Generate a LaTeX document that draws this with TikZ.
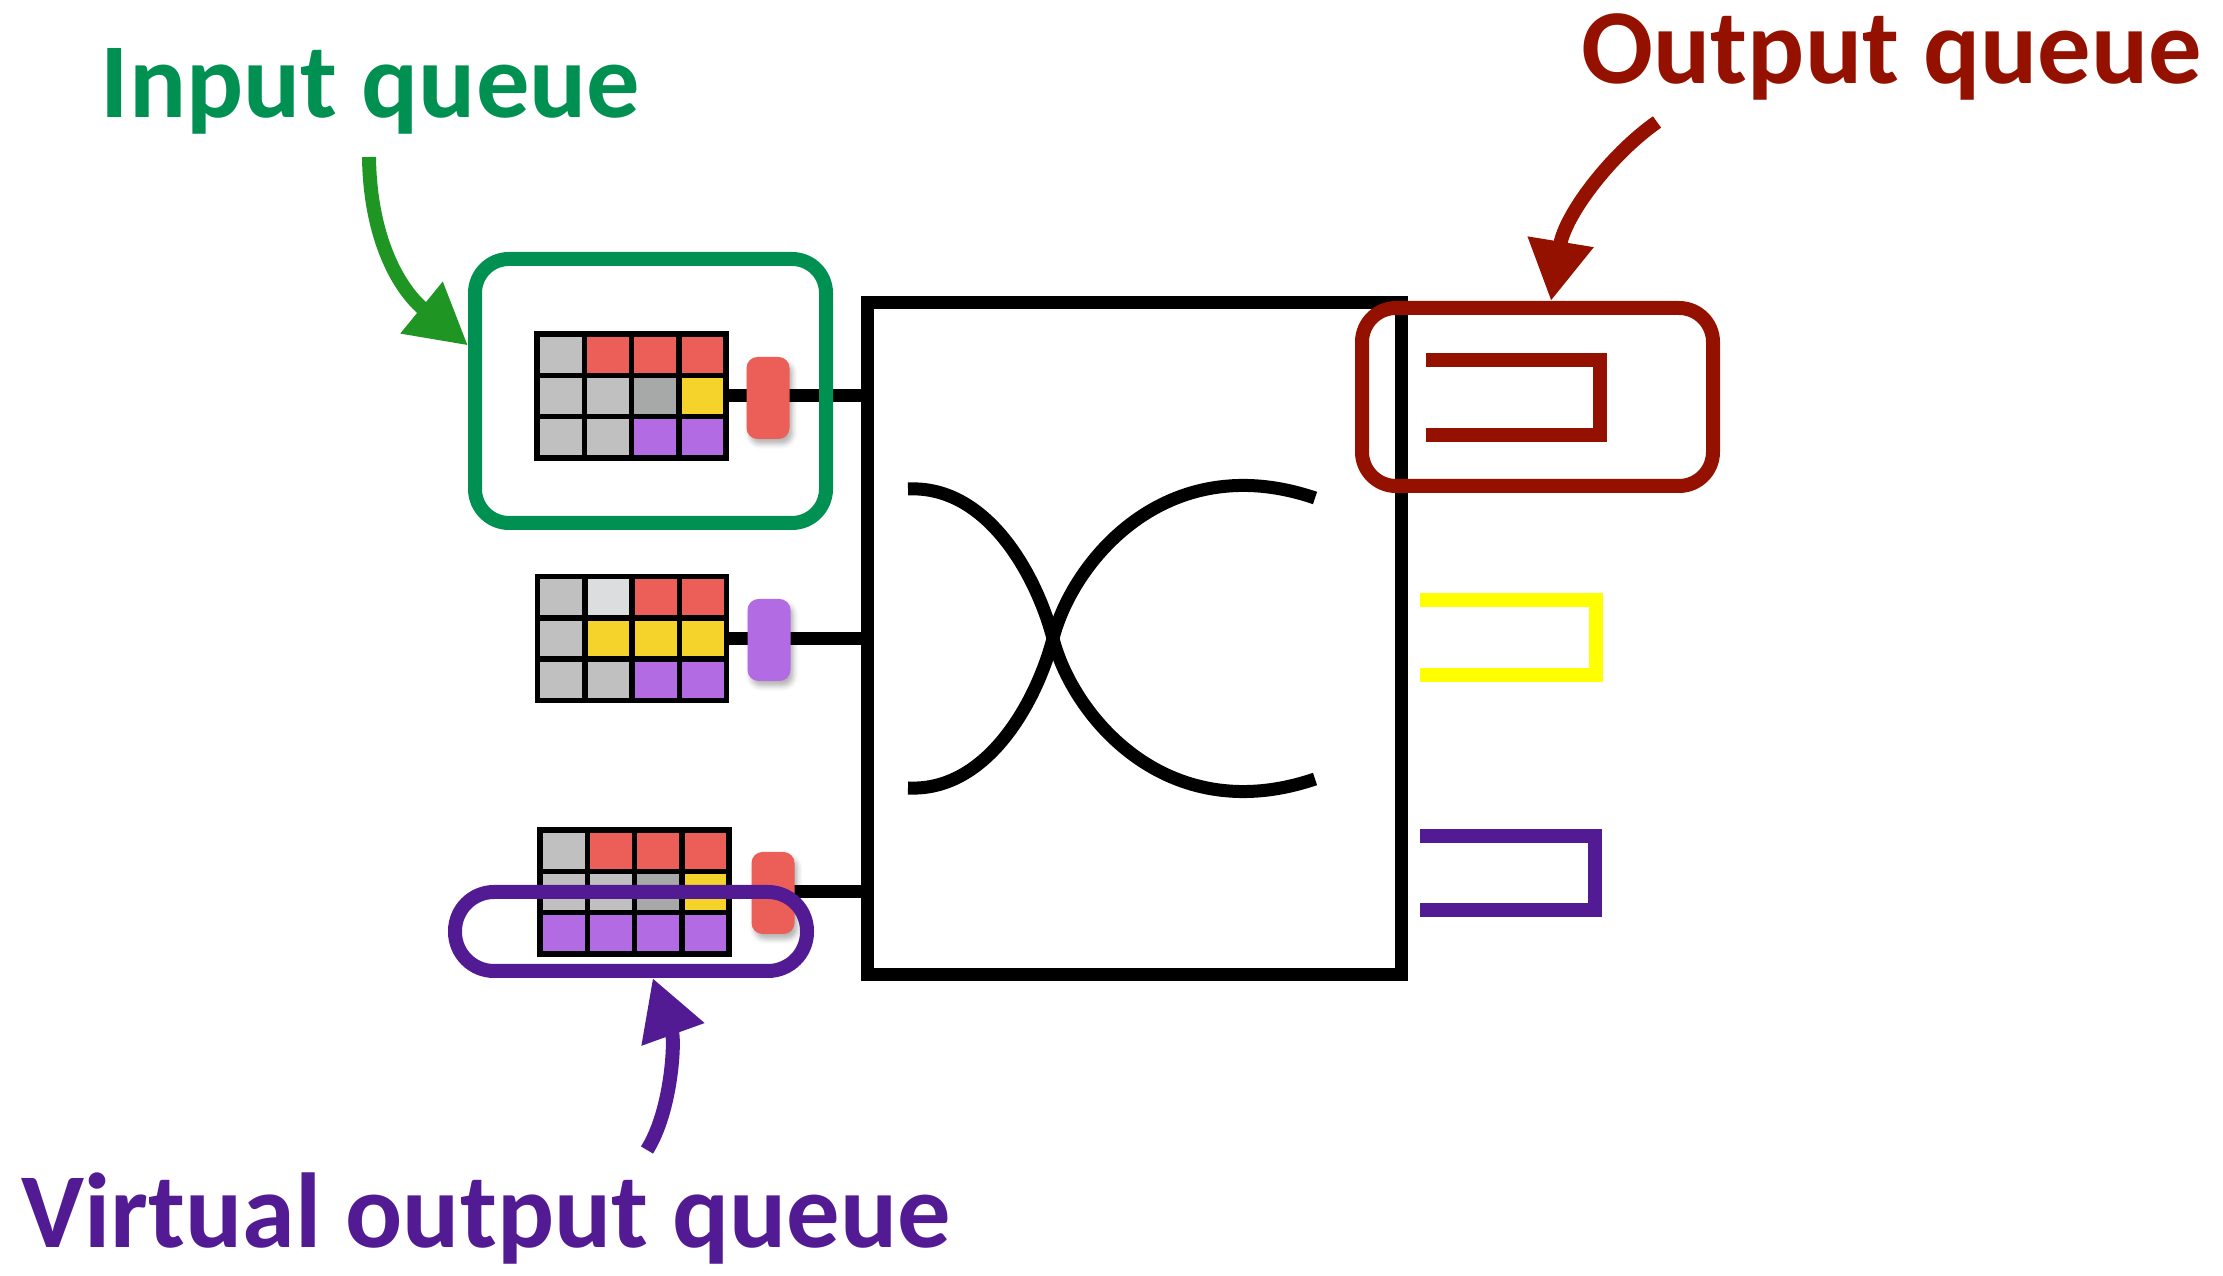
\documentclass[tikz,border=0pt]{standalone}
\usepackage{fontspec}
\setmainfont{Carlito}
\usetikzlibrary{arrows.meta,shadows.blur}
\definecolor{iqgreen}{HTML}{009051}
\definecolor{iqarrow}{HTML}{1F9524}
\definecolor{oqred}{HTML}{941100}
\definecolor{oqyellow}{HTML}{FFFF00}
\definecolor{voqpurple}{HTML}{531B93}
\definecolor{cg}{HTML}{C0C0C0}
\definecolor{cd}{HTML}{A6A9A8}
\definecolor{cl}{HTML}{DCDDDF}
\definecolor{cr}{HTML}{EC5F58}
\definecolor{cy}{HTML}{F6D32A}
\definecolor{cp}{HTML}{B36BE3}
\tikzset{
  switchbox/.style={draw, line width=1.3mm, minimum width=53.4mm, minimum height=67.2mm, inner sep=0pt},
  wire/.style={line width=1.3mm},
  qgrid/.style={minimum width=18.9mm, minimum height=12.4mm, inner sep=0pt, outer sep=0pt},
  cellline/.style={line width=0.55mm},
  pill/.style={rounded corners=1.1mm, minimum width=4.3mm, minimum height=8.2mm, inner sep=0pt,
    blur shadow={shadow xshift=0.3mm, shadow yshift=-0.5mm, shadow blur radius=0.5mm, shadow opacity=30}},
  hilite/.style={draw, line width=1.4mm, rounded corners=3.4mm, inner sep=0pt},
  outq/.style={line width=1.35mm, line join=miter},
  callout/.style={line width=1.4mm, -{Triangle[length=6mm,width=6.3mm]}},
  lbl/.style={font=\bfseries\fontsize{30.3}{36}\selectfont, inner sep=0pt, anchor=base west}
}
% colour the 4x3 cells of a queue node, then its grid lines
\newcommand{\fillcells}[2]{%
  \foreach \cc [count=\i from 0] in {#2} {
    \pgfmathtruncatemacro{\cx}{mod(\i,4)}
    \pgfmathtruncatemacro{\cy}{div(\i,4)}
    \fill[fill=\cc] ([shift={(\cx*47.25,\cy*41.33)}]#1.north west) rectangle ++(47.25,41.33);
  }
  \foreach \k in {1,2,3}
    \draw[cellline] ([xshift=\k*4.725mm]#1.north west) -- ([xshift=\k*4.725mm]#1.south west);
  \foreach \k in {1,2}
    \draw[cellline] ([yshift=-\k*4.133mm]#1.north west) -- ([yshift=-\k*4.133mm]#1.north east);
  \draw[cellline] (#1.north west) rectangle (#1.south east);
}
\begin{document}
\begin{tikzpicture}[x=0.1mm,y=-0.1mm]
  \useasboundingbox (0,0) rectangle (2223,1276);
  % switch fabric
  \node[switchbox] (sw) at (1134,639) {};
  \draw[wire] (908,489) .. controls (988,485) and (1037,577) .. (1053,638.5)
              .. controls (1072,714) and (1165,830) .. (1315,779);
  \draw[wire] (908,788) .. controls (988,792) and (1037,700) .. (1053,638.5)
              .. controls (1072,563) and (1165,447) .. (1315,498);
  % input queues
  \node[qgrid] (g1) at (631.5,396) {};
  \node[qgrid] (g2) at (632,638.5) {};
  \node[qgrid] (g3) at (634.5,892) {};
  \draw[wire] (g1.east) -- (g1.east -| sw.west);
  \draw[wire] (g2.east) -- (g2.east -| sw.west);
  \draw[wire] (g3.east) -- (g3.east -| sw.west);
  \fillcells{g1}{cg,cr,cr,cr,cg,cg,cd,cy,cg,cg,cp,cp}
  \fillcells{g2}{cg,cl,cr,cr,cg,cy,cy,cy,cg,cg,cp,cp}
  \fillcells{g3}{cg,cr,cr,cr,cg,cg,cd,cy,cp,cp,cp,cp}
  \node[pill, fill=cr] (p1) at (768,398) {};
  \node[pill, fill=cp] (p2) at (769,640) {};
  \node[pill, fill=cr] (p3) at (773,893) {};
  % output queues
  \draw[outq, oqred] (1426,360) -| (1600,435) -- (1426,435);
  \draw[outq, oqyellow] (1420,600) -| (1596,675) -- (1420,675);
  \draw[outq, voqpurple] (1420,836) -| (1595,910) -- (1420,910);
  % highlights
  \node[hilite, draw=iqgreen, minimum width=35.1mm, minimum height=26.4mm] (iqbox) at (650.5,391) {};
  \node[hilite, draw=oqred, minimum width=35.1mm, minimum height=17.8mm] (oqbox) at (1537.5,397) {};
  \node[hilite, draw=voqpurple, rounded corners=3.9mm, minimum width=35.2mm, minimum height=7.9mm] (voqbox) at (631,931.5) {};
  % labels
  \node[lbl, iqgreen] (iqlabel) at (100,118) {Input queue};
  \node[lbl, oqred] (oqlabel) at (1581,84) {Output queue};
  \node[lbl, voqpurple] (voqlabel) at (21,1248) {Virtual output queue};
  \coordinate (iqtail) at (369,157);
  \coordinate (oqtail) at (1657,122);
  \coordinate (voqtail) at (647,1150);
  \draw[callout, iqarrow] (iqtail) .. controls (370,240) and (400,290) .. (iqbox.166);
  \draw[callout, oqred] (oqtail) .. controls (1610,155) and (1565,215) .. (oqbox.82);
  \draw[callout, voqpurple] (voqtail) .. controls (672,1110) and (675,1040) .. (voqbox.295);
\end{tikzpicture}
\end{document}
